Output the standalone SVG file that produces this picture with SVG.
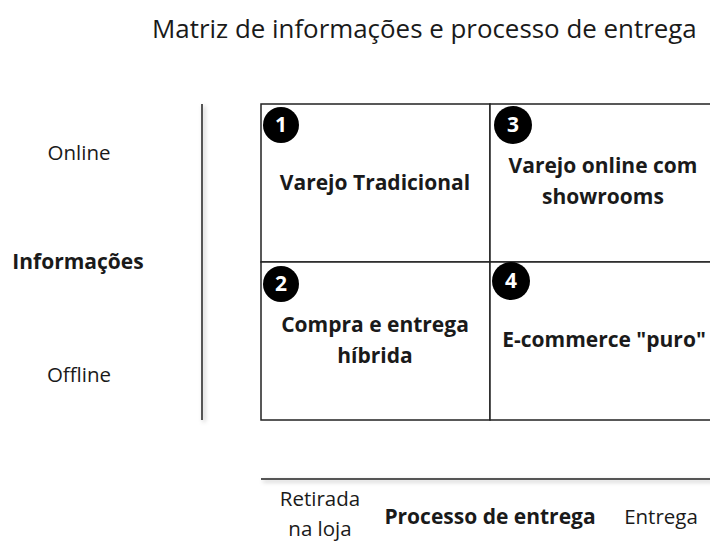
<svg xmlns="http://www.w3.org/2000/svg" width="710" height="542" viewBox="0 0 710 542">
<style>
text{font-family:"Open Sans","Noto Sans","DejaVu Sans",sans-serif;fill:#1a1a1a}
.t{font-size:25.9px}
.b{font-size:21px;font-weight:bold;text-anchor:middle}
.r{font-size:20.5px;text-anchor:middle}
.cell{fill:#fff;stroke:#222;stroke-width:1.5}
.num{font-size:21px;font-weight:bold;fill:#fff;text-anchor:middle}
.ax{stroke:#555;stroke-width:2;fill:none}
</style>
<defs>
<filter id="sh" filterUnits="userSpaceOnUse" x="0" y="0" width="710" height="542"><feDropShadow dx="2" dy="2" stdDeviation="2" flood-color="#000" flood-opacity="0.25"/></filter>
</defs>
<rect width="710" height="542" fill="#fff"/>
<text class="t" x="152" y="38">Matriz de informações e processo de entrega</text>
<g id="connectors">
<line class="ax" x1="202" y1="104" x2="202" y2="420" filter="url(#sh)"/>
<line class="ax" x1="261" y1="479" x2="712" y2="479" filter="url(#sh)"/>
</g>
<g id="axis-y">
<text class="r" x="79" y="160">Online</text>
<text class="b" x="78" y="269">Informações</text>
<text class="r" x="79" y="382">Offline</text>
</g>
<g id="axis-x">
<text class="r" x="320" y="506">Retirada</text>
<text class="r" x="320" y="536">na loja</text>
<text class="b" x="490" y="524">Processo de entrega</text>
<text class="r" x="661" y="524">Entrega</text>
</g>
<g id="q1">
<rect class="cell" x="261" y="104" width="229" height="158"/>
<circle cx="281" cy="125" r="18" fill="#000"/>
<text class="num" x="281" y="132">1</text>
<text class="b" x="375" y="190">Varejo Tradicional</text>
</g>
<g id="q3">
<rect class="cell" x="490" y="104" width="229" height="158"/>
<circle cx="513" cy="125" r="19" fill="#000"/>
<text class="num" x="513" y="132">3</text>
<text class="b" x="603" y="173">Varejo online com</text>
<text class="b" x="603" y="204">showrooms</text>
</g>
<g id="q2">
<rect class="cell" x="261" y="262" width="229" height="158"/>
<circle cx="281" cy="284" r="18" fill="#000"/>
<text class="num" x="281" y="291">2</text>
<text class="b" x="375" y="332">Compra e entrega</text>
<text class="b" x="375" y="363">híbrida</text>
</g>
<g id="q4">
<rect class="cell" x="490" y="262" width="229" height="158"/>
<circle cx="511" cy="281" r="19" fill="#000"/>
<text class="num" x="511" y="288">4</text>
<text class="b" x="604" y="347">E-commerce "puro"</text>
</g>
</svg>
